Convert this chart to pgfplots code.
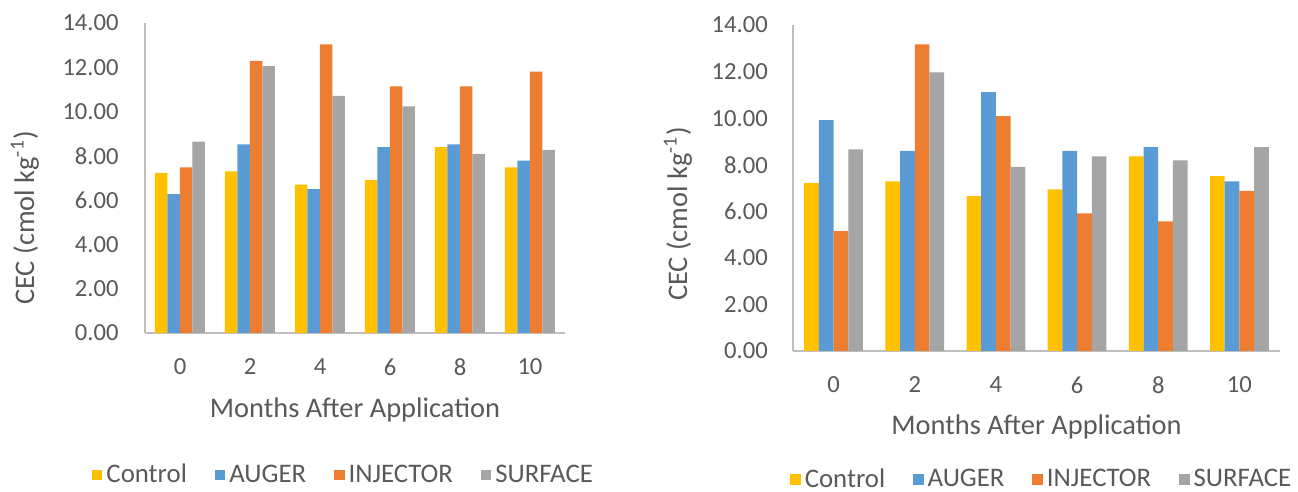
\documentclass[border=0pt]{standalone}
\usepackage{fontspec}
\setmainfont{Carlito}
\usepackage{pgfplots}
\usepackage{pgfplotstable}
\pgfplotsset{compat=1.18}
\definecolor{cY}{HTML}{FFC000}
\definecolor{cB}{HTML}{5B9BD5}
\definecolor{cO}{HTML}{ED7D31}
\definecolor{cG}{HTML}{A5A5A5}
\definecolor{txt}{HTML}{595959}
\definecolor{axl}{HTML}{BFBFBF}
\pgfplotstableread{
x Control Auger Injector Surface
0 7.23 6.27 7.48 8.64
1 7.30 8.52 12.29 12.05
2 6.70 6.50 13.03 10.71
3 6.92 8.39 11.14 10.23
4 8.39 8.52 11.14 8.09
5 7.48 7.79 11.80 8.27
}\leftdata
\pgfplotstableread{
x Control Auger Injector Surface
0 7.22 9.92 5.15 8.66
1 7.28 8.59 13.17 11.97
2 6.65 11.12 10.09 7.91
3 6.94 8.59 5.91 8.36
4 8.36 8.76 5.57 8.19
5 7.51 7.28 6.88 8.76
}\rightdata
\pgfplotsset{
  legimg/.style={legend image code/.code={\fill[##1] (0pt,-2.6pt) rectangle (5.2pt,2.6pt);}},
  cec/.style={
    scale only axis, anchor=south west,
    ybar=0pt, ymin=0, ymax=14, xmin=-0.5, xmax=5.5,
    axis x line*=bottom, axis y line*=left,
    axis line style={draw=axl, line width=0.8pt, -},
    xtick={0,1,2,3,4,5}, xticklabels={0,2,4,6,8,10},
    ytick={0,2,4,6,8,10,12,14},
    tick style={draw=none}, major tick length=0pt,
    /pgf/number format/assume math mode=true,
    yticklabel style={/pgf/number format/fixed, /pgf/number format/fixed zerofill, /pgf/number format/precision=2},
    tick label style={font=\fontsize{12.3}{14}\selectfont, text=txt},
    xticklabel style={anchor=center, yshift=-17pt},
    yticklabel style={anchor=east, inner sep=0pt},
    xlabel={Months After Application},
    ylabel={CEC (cmol kg\textsuperscript{-1})},
    label style={font=\fontsize{14.2}{16}\selectfont, text=txt},
    legend columns=4,
    legend style={draw=none, fill=none, font=\fontsize{13.4}{15}\selectfont, text=txt, anchor=center,
      /tikz/every even column/.append style={column sep=12pt},
      /tikz/every odd column/.append style={column sep=0pt}},
  },
}
\begin{document}
\begin{tikzpicture}
\path[use as bounding box] (0,0) rectangle (649pt,246pt);
\begin{axis}[cec, at={(72.5pt,79.5pt)}, width=210pt, height=155pt, bar width=6.25pt,
  yticklabel style={xshift=-13pt},
  xlabel style={at={(axis description cs:0.5,-0.248)}, anchor=center},
  ylabel style={at={(axis description cs:-0.2857,0.371)}, anchor=center},
  legend style={at={(axis description cs:0.475,-0.458)}}]
\addplot[fill=cY, draw=none, legimg] table[x=x, y=Control] {\leftdata};
\addplot[fill=cB, draw=none, legimg] table[x=x, y=Auger] {\leftdata};
\addplot[fill=cO, draw=none, legimg] table[x=x, y=Injector] {\leftdata};
\addplot[fill=cG, draw=none, legimg] table[x=x, y=Surface] {\leftdata};
\legend{Control, AUGER, INJECTOR, SURFACE}
\end{axis}
\begin{axis}[cec, at={(396.5pt,70.5pt)}, width=243.5pt, height=163pt, bar width=7.35pt,
  yticklabel style={xshift=-12.4pt},
  xlabel style={at={(axis description cs:0.5,-0.233)}, anchor=center},
  ylabel style={at={(axis description cs:-0.2365,0.420)}, anchor=center},
  legend style={at={(axis description cs:0.513,-0.394)}}]
\addplot[fill=cY, draw=none, legimg] table[x=x, y=Control] {\rightdata};
\addplot[fill=cB, draw=none, legimg] table[x=x, y=Auger] {\rightdata};
\addplot[fill=cO, draw=none, legimg] table[x=x, y=Injector] {\rightdata};
\addplot[fill=cG, draw=none, legimg] table[x=x, y=Surface] {\rightdata};
\legend{Control, AUGER, INJECTOR, SURFACE}
\end{axis}
\end{tikzpicture}
\end{document}
